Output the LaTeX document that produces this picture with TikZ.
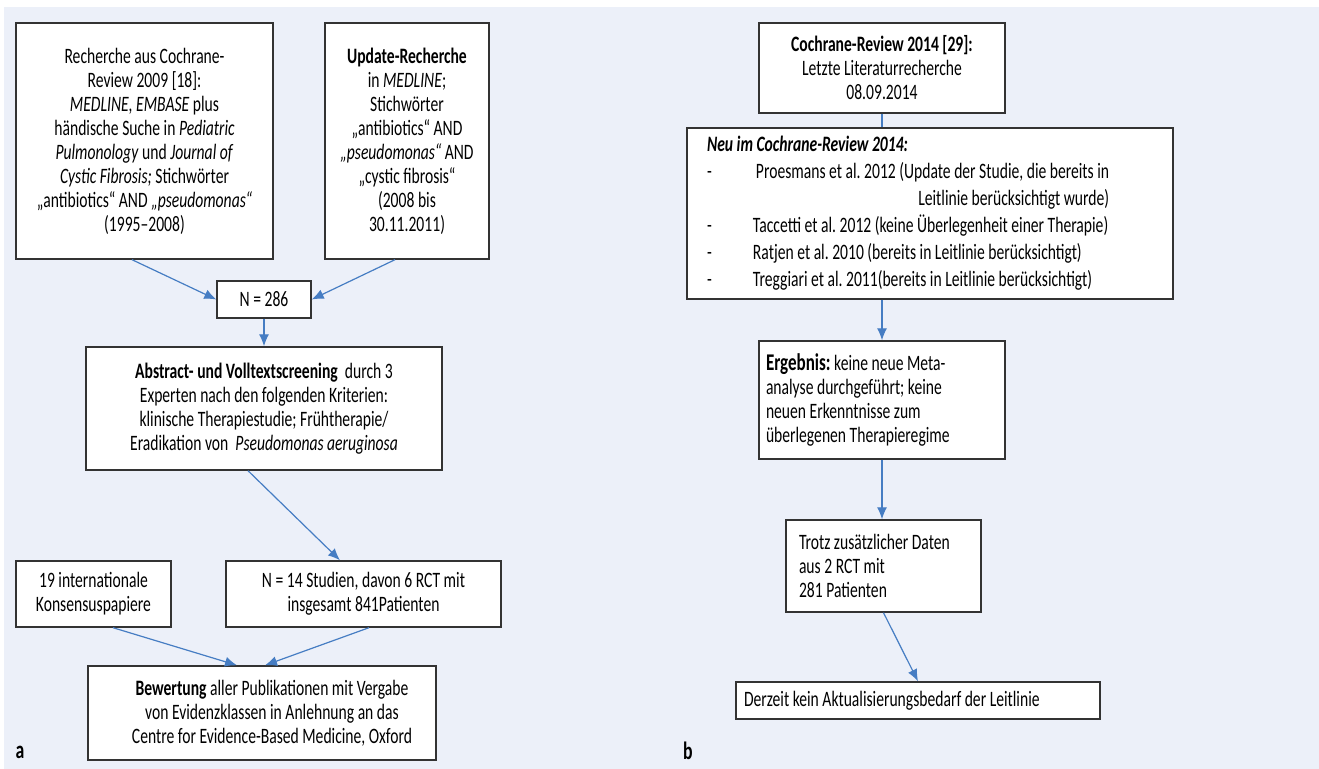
\documentclass[tikz,border=0pt]{standalone}
\usepackage{fontspec}
\setmainfont{Carlito}[FakeStretch=0.71]
\usetikzlibrary{arrows.meta}
\frenchspacing
\definecolor{bgblue}{RGB}{236,240,249}
\definecolor{arrowblue}{RGB}{70,125,195}
\tikzstyle{block} = [rectangle, draw=black!80, line width=0.7pt, fill=white, align=center, inner sep=0pt]
\tikzstyle{leftblock} = [block, align=flush left]
\tikzstyle{line} = [draw=arrowblue, line width=0.6pt, -{Latex[length=6pt,width=5pt]}]
\tikzstyle{plain} = [draw=arrowblue, line width=0.6pt]
\tikzstyle{panel} = [font=\fontsize{12.5}{12}\selectfont\bfseries, inner sep=0pt]

\begin{document}
\begin{tikzpicture}[x=0.5pt, y=-0.5pt, font=\fontsize{11}{12}\selectfont]
	\useasboundingbox (0,0) rectangle (1319,769);
	\fill[bgblue] (4,7) rectangle (1319,769);
	\node [block, minimum width=128.5pt, minimum height=118pt] (rech) at (144.5,141) {Recherche aus Cochrane-\\Review 2009 [18]:\\\textit{MEDLINE, EMBASE} plus\\händische Suche in \textit{Pediatric}\\\textit{Pulmonology} und \textit{Journal of}\\\textit{Cystic Fibrosis;} Stichwörter\\„antibiotics“ AND \textit{„pseudomonas“}\\(1995–2008)};
	\node [block, minimum width=82pt, minimum height=118pt] (update) at (407,141) {\textbf{Update-Recherche}\\in \textit{MEDLINE};\\Stichwörter\\„antibiotics“ AND\\\textit{„pseudomonas“} AND\\„cystic fibrosis“\\(2008 bis\\30.11.2011)};
	\node [block, minimum width=47pt, minimum height=18.5pt] (total) at (264,299.5) {N = 286};
	\node [block, minimum width=178pt, minimum height=61.5pt] (screen) at (264,408.5) {\textbf{Abstract- und Volltextscreening}\ \ durch 3\\Experten nach den folgenden Kriterien:\\klinische Therapiestudie; Frühtherapie/\\Eradikation von\ \ \textit{Pseudomonas aeruginosa}};
	\node [block, minimum width=77.5pt, minimum height=33pt] (konsens) at (93.5,594) {19 internationale\\Konsensuspapiere};
	\node [block, minimum width=137.5pt, minimum height=33pt] (studien) at (363.5,594) {N = 14 Studien, davon 6 RCT mit\\insgesamt 841Patienten};
	\node [block, minimum width=174pt, minimum height=47pt] (bewert) at (262,713) {\hspace*{10pt}\textbf{Bewertung} aller Publikationen mit Vergabe\\\hspace*{10pt}von Evidenzklassen in Anlehnung an das\\\hspace*{10pt}Centre for Evidence-Based Medicine, Oxford};
	\node [panel] (lblA) at (20,752) {a};
	\node [block, minimum width=123pt, minimum height=45pt] (cochrane) at (882,68) {\textbf{Cochrane-Review 2014 [29]:}\\Letzte Literaturrecherche\\08.09.2014};
	\node [leftblock, minimum width=243pt, minimum height=85.5pt, text width=223pt, inner xsep=10pt, font=\fontsize{11}{13.5}\selectfont] (neu) at (930,213.5) {\begin{tabular}{@{}p{23pt}@{}l@{}}
		\multicolumn{2}{@{}l}{\textbf{\textit{Neu im Cochrane-Review 2014:}}}\\
		- & \hspace{1.5pt}Proesmans et al. 2012 (Update der Studie, die bereits in\\
		\multicolumn{2}{@{}r@{}}{Leitlinie berücksichtigt wurde)}\\
		- & Taccetti et al. 2012 (keine Überlegenheit einer Therapie)\\
		- & Ratjen et al. 2010 (bereits in Leitlinie berücksichtigt)\\
		- & Treggiari et al. 2011(bereits in Leitlinie berücksichtigt)
	\end{tabular}};
	\node [leftblock, minimum width=123pt, minimum height=59pt, text width=116pt, inner xsep=3.5pt] (ergebnis) at (882,400) {{\fontsize{12}{12}\selectfont\textbf{Ergebnis:}} keine neue Meta-\\analyse durchgeführt; keine\\neuen Erkenntnisse zum\\überlegenen Therapieregime};
	\node [leftblock, minimum width=97.5pt, minimum height=46pt, text width=84.5pt, inner xsep=6.5pt] (trotz) at (883.5,566) {Trotz zusätzlicher Daten\\aus 2 RCT mit\\281 Patienten};
	\node [leftblock, minimum width=182pt, minimum height=18.5pt, text width=174pt, inner xsep=4pt] (derzeit) at (918,700.5) {Derzeit kein Aktualisierungsbedarf der Leitlinie};
	\node [panel] (lblB) at (688,751) {b};
	\path [line] ([xshift=-6.25pt]rech.south) -> (total.west);
	\path [line] ([xshift=-6pt]update.south) -> (total.east);
	\path [line] (total.south) -> (screen.north);
	\path [line] ([xshift=-8pt]screen.south) -> ([xshift=-11.75pt]studien.north);
	\path [line] ([xshift=9.75pt]konsens.south) -> ([xshift=-12.5pt]bewert.north);
	\path [line] ([xshift=2.75pt]studien.south) -> ([xshift=1.5pt]bewert.north);
	\path [plain] (cochrane.south) -- (neu.north -| cochrane.south);
	\path [line] (neu.south -| ergebnis.north) -> (ergebnis.north);
	\path [line] (ergebnis.south) -> (trotz.north -| ergebnis.south);
	\path [line] (trotz.south) -> (derzeit.north);
\end{tikzpicture}
\end{document}
